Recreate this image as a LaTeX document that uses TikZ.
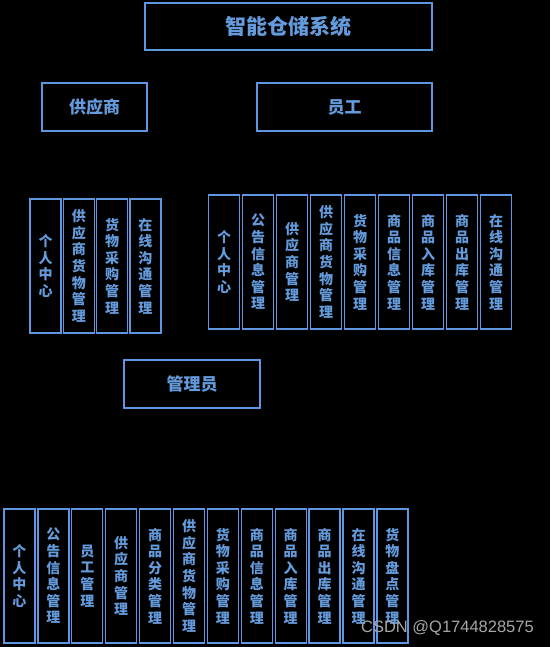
\documentclass[tikz,border=0pt]{standalone}
\usepackage{fontspec}
\setmainfont{Noto Sans CJK SC}
\newfontfamily\markfont{Liberation Sans}
\usetikzlibrary{positioning}
\definecolor{boxline}{RGB}{95,150,225}
\definecolor{boxtext}{RGB}{100,155,220}

\begin{document}
\begin{tikzpicture}[
  x=1pt, y=-1pt,
  node distance=2.9pt,
  box/.style={rectangle, draw=boxline, line width=1.3pt, text=boxtext, inner sep=0pt, outer sep=0pt, align=center},
  top/.style={box, minimum height=47pt, font=\fontsize{21}{23}\selectfont\bfseries},
  role/.style={box, minimum height=48pt, font=\fontsize{17}{19}\selectfont\bfseries},
  func/.style={box, minimum width=31pt, minimum height=134pt, font=\fontsize{14}{16.6}\selectfont\bfseries}
]
  \fill[black] (0,0) rectangle (550,647);
  \useasboundingbox (0,0) rectangle (550,647);

  % levels
  \node[top, minimum width=287pt] (sys) at (288.5,26.5) {智能仓储系统};
  \node[role, minimum width=105pt] (sup) at (94.5,107) {供应商};
  \node[role, minimum width=175pt] (emp) at (344.5,107) {员工};
  \node[role, minimum width=136pt] (adm) at (192,384) {管理员};

  % supplier functions
  \node[func] (sup1) at (45.5,266) {个\\人\\中\\心};
  \node[func, right=2.3pt of sup1] (sup2) {供\\应\\商\\货\\物\\管\\理};
  \node[func, right=2.3pt of sup2] (sup3) {货\\物\\采\\购\\管\\理};
  \node[func, right=2.3pt of sup3] (sup4) {在\\线\\沟\\通\\管\\理};

  % employee functions
  \node[func] (emp1) at (224,262) {个\\人\\中\\心};
  \node[func, right=3pt of emp1] (emp2) {公\\告\\信\\息\\管\\理};
  \node[func, right=3pt of emp2] (emp3) {供\\应\\商\\管\\理};
  \node[func, right=3pt of emp3] (emp4) {供\\应\\商\\货\\物\\管\\理};
  \node[func, right=3pt of emp4] (emp5) {货\\物\\采\\购\\管\\理};
  \node[func, right=3pt of emp5] (emp6) {商\\品\\信\\息\\管\\理};
  \node[func, right=3pt of emp6] (emp7) {商\\品\\入\\库\\管\\理};
  \node[func, right=3pt of emp7] (emp8) {商\\品\\出\\库\\管\\理};
  \node[func, right=3pt of emp8] (emp9) {在\\线\\沟\\通\\管\\理};

  % admin functions
  \node[func] (adm1) at (19.5,576) {个\\人\\中\\心};
  \node[func, right=of adm1] (adm2) {公\\告\\信\\息\\管\\理};
  \node[func, right=of adm2] (adm3) {员\\工\\管\\理};
  \node[func, right=of adm3] (adm4) {供\\应\\商\\管\\理};
  \node[func, right=of adm4] (adm5) {商\\品\\分\\类\\管\\理};
  \node[func, right=of adm5] (adm6) {供\\应\\商\\货\\物\\管\\理};
  \node[func, right=of adm6] (adm7) {货\\物\\采\\购\\管\\理};
  \node[func, right=of adm7] (adm8) {商\\品\\信\\息\\管\\理};
  \node[func, right=of adm8] (adm9) {商\\品\\入\\库\\管\\理};
  \node[func, right=of adm9] (adm10) {商\\品\\出\\库\\管\\理};
  \node[func, right=of adm10] (adm11) {在\\线\\沟\\通\\管\\理};
  \node[func, right=of adm11] (adm12) {货\\物\\盘\\点\\管\\理};

  \node[text=black!35, font=\markfont\fontsize{16.5}{18}\selectfont, anchor=east, inner sep=0pt] (mark) at (534,628) {CSDN @Q1744828575};
\end{tikzpicture}
\end{document}
